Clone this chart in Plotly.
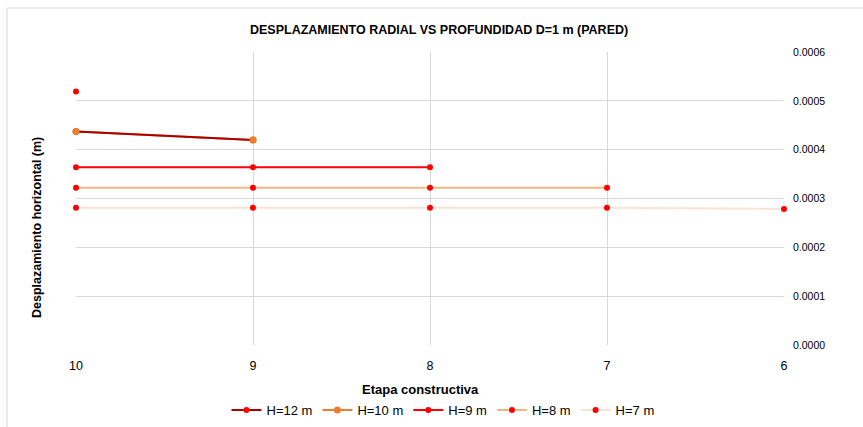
import plotly.graph_objects as go

# Data
etapas = [10, 9, 8, 7, 6]
y_ticks = [0.0, 0.0001, 0.0002, 0.0003, 0.0004, 0.0005, 0.0006]

h12_x = [10, None, 10, 9]
h12_y = [0.000519, None, 0.000437, 0.000420]

h10_x = [10, 9]
h10_y = [0.000437, 0.000420]

h9_x = [10, 9, 8]
h9_y = [0.000364, 0.000364, 0.000364]

h8_x = [10, 9, 8, 7]
h8_y = [0.000322, 0.000322, 0.000322, 0.000322]

h7_x = [10, 9, 8, 7, 6]
h7_y = [0.000281, 0.000281, 0.000281, 0.000281, 0.0002785]

FONT = "Liberation Sans, Arial, sans-serif"
W, H = 863, 427
L, R, T, B = 76, 79, 52, 82
PW, PH = W - L - R, H - T - B


def px_x(p):
    return (p - L) / PW


def px_y(p):
    return (H - B - p) / PH


fig = go.Figure()

fig.add_trace(go.Scatter(x=h7_x, y=h7_y, name="H=7 m", mode="lines+markers",
                         line=dict(color="#FBE3D4", width=2),
                         marker=dict(color="#FF0000", size=6),
                         legendrank=5, cliponaxis=False))
fig.add_trace(go.Scatter(x=h8_x, y=h8_y, name="H=8 m", mode="lines+markers",
                         line=dict(color="#F5B686", width=2),
                         marker=dict(color="#FF0000", size=6),
                         legendrank=4, cliponaxis=False))
fig.add_trace(go.Scatter(x=h9_x, y=h9_y, name="H=9 m", mode="lines+markers",
                         line=dict(color="#FF0000", width=2),
                         marker=dict(color="#FF0000", size=6),
                         legendrank=3, cliponaxis=False))
fig.add_trace(go.Scatter(x=h10_x, y=h10_y, name="H=10 m", mode="lines+markers",
                         line=dict(color="#ED7D31", width=2),
                         marker=dict(color="#ED7D31", size=7),
                         legendrank=2, cliponaxis=False))
fig.add_trace(go.Scatter(x=h12_x, y=h12_y, name="H=12 m", mode="lines+markers",
                         connectgaps=False,
                         line=dict(color="#A80000", width=2),
                         marker=dict(color="#FF0000", size=6),
                         legendrank=1, cliponaxis=False))
fig.add_trace(go.Scatter(x=h10_x, y=h10_y, name="H=10 m", mode="markers",
                         marker=dict(color="#ED7D31", size=7),
                         showlegend=False, cliponaxis=False))

fig.update_layout(
    width=W, height=H,
    margin=dict(l=L, r=R, t=T, b=B, pad=0, autoexpand=False),
    paper_bgcolor="white", plot_bgcolor="white",
    font=dict(family=FONT, color="#000000"),
    showlegend=True,
    legend=dict(orientation="h", xref="container", yref="container",
                x=443 / W, y=1 - 410 / H,
                xanchor="center", yanchor="middle",
                font=dict(size=13, family=FONT, color="#000000"),
                bgcolor="rgba(0,0,0,0)"),
    xaxis=dict(range=[10, 6], tickmode="array", tickvals=etapas,
               ticktext=[str(v) for v in etapas],
               showgrid=True, gridcolor="#D9D9D9", gridwidth=1,
               zeroline=False, showline=False, ticks="",
               ticklabelstandoff=11,
               tickfont=dict(size=12.5, family=FONT, color="#000000")),
    yaxis=dict(range=[0, 0.0006], side="right", tickmode="array",
               tickvals=y_ticks, ticktext=[f"{v:.4f}" for v in y_ticks],
               showgrid=True, gridcolor="#D9D9D9", gridwidth=1,
               zeroline=False, showline=False, ticks="",
               ticklabelstandoff=8,
               tickfont=dict(size=10.5, family=FONT, color="#000000")),
    shapes=[dict(type="rect", xref="paper", yref="paper",
                 x0=px_x(7), x1=px_x(900), y0=px_y(460), y1=px_y(8),
                 line=dict(color="#D9D9D9", width=1), layer="below")],
    annotations=[
        dict(text="<b>DESPLAZAMIENTO RADIAL VS PROFUNDIDAD D=1 m (PARED)</b>",
             xref="paper", yref="paper", x=px_x(439), y=px_y(30),
             xanchor="center", yanchor="middle", showarrow=False,
             font=dict(size=12.5, family=FONT, color="#000000")),
        dict(text="<b>Etapa constructiva</b>",
             xref="paper", yref="paper", x=px_x(420), y=px_y(389),
             xanchor="center", yanchor="middle", showarrow=False,
             font=dict(size=13, family=FONT, color="#000000")),
        dict(text="<b>Desplazamiento horizontal (m)</b>",
             xref="paper", yref="paper", x=px_x(37), y=px_y(228),
             xanchor="center", yanchor="middle", showarrow=False,
             textangle=-90,
             font=dict(size=12.5, family=FONT, color="#000000")),
    ],
)

fig.write_html("out.html",
               config={"displayModeBar": False},
               post_script="document.body.style.margin='0';document.body.style.padding='0';")
